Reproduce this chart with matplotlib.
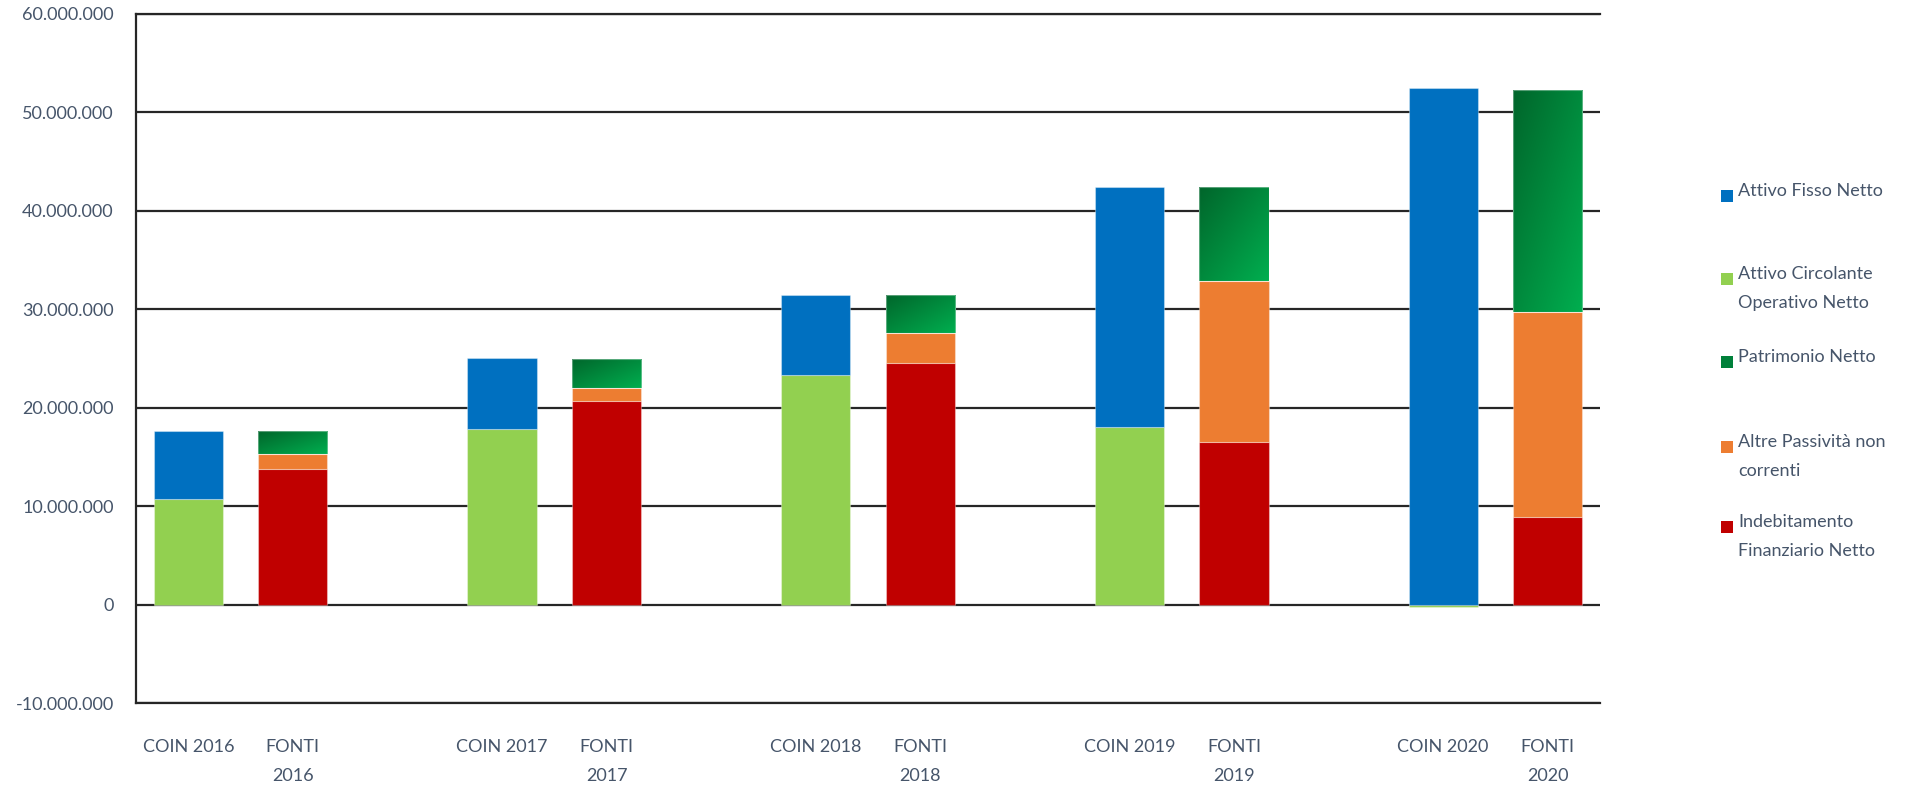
import numpy as np
import matplotlib
matplotlib.use("Agg")
import matplotlib.pyplot as plt
from matplotlib.patches import Rectangle
from matplotlib.ticker import FuncFormatter, MultipleLocator

plt.rcParams['font.family'] = ['Lato', 'DejaVu Sans']

# ---- data (euro) ----
years = ['2016', '2017', '2018', '2019', '2020']

# impieghi (COIN bars), stacked bottom -> top
attivo_circolante = [10_750_000, 17_800_000, 23_300_000, 18_000_000, -200_000]
attivo_fisso = [6_850_000, 7_200_000, 8_200_000, 24_400_000, 52_500_000]

# fonti (FONTI bars), stacked bottom -> top
indebitamento = [13_800_000, 20_700_000, 24_500_000, 16_500_000, 8_850_000]
altre_passivita = [1_500_000, 1_300_000, 3_100_000, 16_400_000, 20_850_000]
patrimonio = [2_300_000, 3_000_000, 3_900_000, 9_500_000, 22_600_000]

coin_labels = [f'COIN {y}' for y in years]
fonti_labels = [f'FONTI\n{y}' for y in years]

legend_labels = ['Attivo Fisso Netto', 'Attivo Circolante\nOperativo Netto',
                 'Patrimonio Netto', 'Altre Passività non\ncorrenti',
                 'Indebitamento\nFinanziario Netto']

# ---- style ----
C_BLUE = '#0070c0'
C_LGREEN = '#92d050'
C_ORANGE = '#ed7d31'
C_RED = '#c00000'
C_DGREEN_A = np.array([0x00, 0x64, 0x2a]) / 255
C_DGREEN_B = np.array([0x00, 0xb0, 0x50]) / 255
TXT = '#46556a'
LINE = '#262626'
BAR_W = 0.66
EDGE = (1, 1, 1, 0.35)

fig = plt.figure(figsize=(19.08, 7.94), dpi=100)
ax = fig.add_axes([136 / 1908, 1 - 703 / 794, (1600 - 136) / 1908, (703 - 14) / 794])

x_coin = np.arange(len(years)) * 3
x_fonti = x_coin + 1


def stack(ax, x, series, colors):
    pos = np.zeros(len(x))
    neg = np.zeros(len(x))
    out = []
    for vals, col in zip(series, colors):
        vals = np.asarray(vals, dtype=float)
        bottom = np.where(vals >= 0, pos, neg)
        bars = ax.bar(x, vals, BAR_W, bottom=bottom, color=col,
                      edgecolor=EDGE, linewidth=0.8, zorder=2)
        pos = pos + np.where(vals >= 0, vals, 0)
        neg = neg + np.where(vals < 0, vals, 0)
        out.append(bars)
    return out


stack(ax, x_coin, [attivo_circolante, attivo_fisso], [C_LGREEN, C_BLUE])
_, _, pn_bars = stack(ax, x_fonti, [indebitamento, altre_passivita, patrimonio],
                      [C_RED, C_ORANGE, 'none'])

# diagonal gradient fill on the Patrimonio Netto segments, clipped to each bar
gy, gx = np.mgrid[0:1:200j, 0:1:80j]
t = np.clip((gx + gy) / 2, 0, 1)  # row 0 = top-left dark
grad = C_DGREEN_A[None, None, :] * (1 - t[..., None]) + C_DGREEN_B[None, None, :] * t[..., None]
for b in pn_bars:
    x0, y0 = b.get_x(), b.get_y()
    w, h = b.get_width(), b.get_height()
    mx, my = 0.02 * w, 0.02 * h
    im = ax.imshow(grad, extent=(x0 - mx, x0 + w + mx, y0 - my, y0 + h + my),
                   origin='upper', aspect='auto', zorder=1.9,
                   interpolation='bilinear')
    im.set_clip_path(b)

ax.set_xlim(-0.5, 13.5)
ax.set_ylim(-10_000_000, 60_000_000)
ax.yaxis.set_major_locator(MultipleLocator(10_000_000))
ax.yaxis.set_major_formatter(FuncFormatter(lambda v, p: f'{v:,.0f}'.replace(',', '.')))
ax.set_axisbelow(True)
ax.grid(axis='y', color=LINE, linewidth=1.6)
ax.grid(axis='x', visible=False)
for s in ['left', 'top', 'bottom']:
    ax.spines[s].set_color(LINE)
    ax.spines[s].set_linewidth(1.6)
ax.spines['right'].set_visible(False)

ticks = np.concatenate([x_coin, x_fonti])
labels = coin_labels + fonti_labels
ax.set_xticks(ticks, labels)
ax.tick_params(axis='x', length=0, pad=26, labelsize=13, labelcolor=TXT)
ax.tick_params(axis='y', length=0, pad=16, labelsize=13, labelcolor=TXT)
for lab in ax.get_xticklabels():
    lab.set_linespacing(2.0)
    lab.set_verticalalignment('top')

# legend on the right
leg_colors = [C_BLUE, C_LGREEN, '#00803a', C_ORANGE, C_RED]
leg_y = [196, 279, 362, 447, 527]  # first-line centres, px from top
for lab, col, yp in zip(legend_labels, leg_colors, leg_y):
    fig.patches.append(Rectangle((1721 / 1908, 1 - (yp + 6) / 794), 12 / 1908, 12 / 794,
                                 transform=fig.transFigure, facecolor=col,
                                 edgecolor='none'))
    fig.text(1738 / 1908, 1 - (yp - 13) / 794, lab, color=TXT, fontsize=13,
             va='top', ha='left', linespacing=2.0)

fig.savefig('out.png', dpi=100, facecolor='white')
